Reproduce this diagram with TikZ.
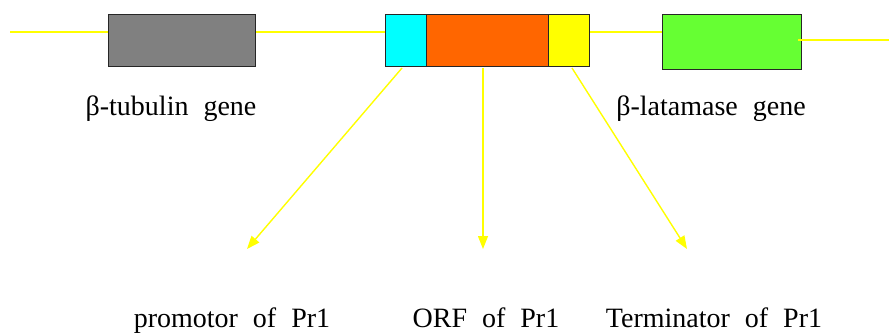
\documentclass[tikz,border=0pt]{standalone}
\usepackage{fontspec}
\usetikzlibrary{arrows.meta}
\definecolor{geneorange}{HTML}{FF6600}
\definecolor{genegreen}{HTML}{66FF33}
\definecolor{geneyellow}{HTML}{FFFF00}
\definecolor{genecyan}{HTML}{00FFFF}
\definecolor{genegray}{HTML}{808080}
\newcommand\wsp{\hspace{15pt}}
\tikzset{
  genebox/.style={draw=black!85, line width=1.3pt, inner sep=0pt, anchor=north west},
  dnaline/.style={draw=geneyellow, line width=1.6pt},
  yarrow/.style={draw=geneyellow, line width=1.4pt, -{Triangle[length=13pt,width=10pt]}, fill=geneyellow},
  lbl/.style={anchor=base, inner sep=0pt},
}
\begin{document}
\begin{tikzpicture}[x=1pt,y=-1pt]
\useasboundingbox (0,0) rectangle (889,334);
% boxes
\node[genebox, fill=genegray, minimum width=147pt, minimum height=52pt] (tub) at (108,14) {};
\node[genebox, fill=genecyan, minimum width=41pt, minimum height=52pt] (prom) at (385,14) {};
\node[genebox, fill=geneorange, minimum width=122pt, minimum height=52pt] (orf) at (426,14) {};
\node[genebox, fill=geneyellow, minimum width=41pt, minimum height=52pt] (term) at (548,14) {};
\node[genebox, fill=genegreen, minimum width=139pt, minimum height=55pt] (lac) at (662,14) {};
% coordinates
\coordinate (lstart) at (10,32);
\coordinate (gstart) at (798,40);
\coordinate (gend) at (889,40);
\coordinate (pa) at (402,68);
\coordinate (pb) at (247,249);
\coordinate (oa) at (483,68);
\coordinate (ob) at (483,249);
\coordinate (ta) at (572,68);
\coordinate (tb) at (687,249);
% DNA lines
\draw[dnaline] (lstart) -- (lstart -| tub.west);
\draw[dnaline] (lstart -| tub.east) -- (lstart -| prom.west);
\draw[dnaline] (lstart -| term.east) -- (lstart -| lac.west);
\draw[dnaline] (gstart) -- (gend);
% arrows
\draw[yarrow] (pa) -- (pb);
\draw[yarrow] (oa) -- (ob);
\draw[yarrow] (ta) -- (tb);
% labels
\node[lbl] (tubl) at (171,116) {\fontspec{Liberation Serif}\fontsize{28}{30}\selectfont β-tubulin\wsp gene};
\node[lbl] (lacl) at (711,116) {\fontspec{Liberation Serif}\fontsize{28}{30}\selectfont β-latamase\wsp gene};
\node[lbl] (proml) at (232,327) {\fontspec{Liberation Serif}\fontsize{28}{30}\selectfont promotor\wsp of\wsp Pr1};
\node[lbl] (orfl) at (486,327) {\fontspec{Liberation Serif}\fontsize{28}{30}\selectfont ORF\wsp of\wsp Pr1};
\node[lbl] (terml) at (714,327) {\fontspec{Liberation Serif}\fontsize{28}{30}\selectfont Terminator\wsp of\wsp Pr1};
\end{tikzpicture}
\end{document}
